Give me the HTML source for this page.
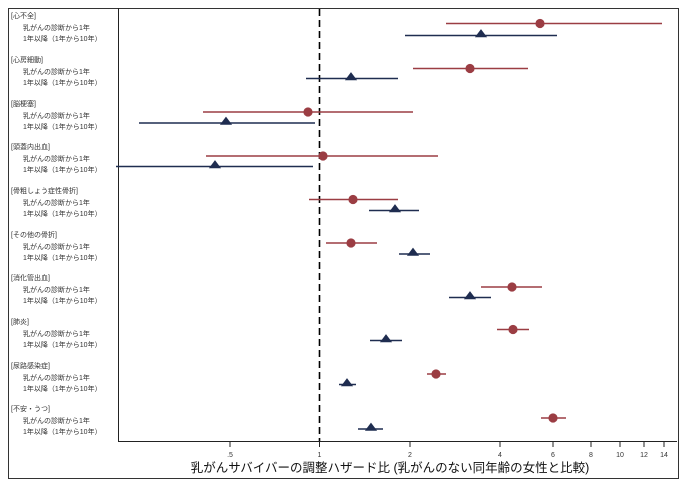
<!DOCTYPE html>
<html><head><meta charset="utf-8"><style>
html,body{margin:0;padding:0;background:#fff;}
svg{display:block;font-family:"Liberation Sans","Noto Sans CJK JP",sans-serif;}
</style></head><body>
<svg width="690" height="490" viewBox="0 0 690 490" xmlns="http://www.w3.org/2000/svg">
<rect x="8.5" y="8.5" width="670" height="470" fill="#fff" stroke="#333" stroke-width="1"/>
<line x1="118.5" y1="8" x2="118.5" y2="441" stroke="#222"/>
<line x1="118" y1="441.5" x2="677" y2="441.5" stroke="#222"/>
<line x1="319.5" y1="9" x2="319.5" y2="441" stroke="#000" stroke-width="1.6" stroke-dasharray="7,4"/>
<g stroke="#222">
<line x1="230" y1="441" x2="230" y2="447"/><line x1="319.5" y1="441" x2="319.5" y2="447"/>
<line x1="410" y1="441" x2="410" y2="447"/><line x1="500" y1="441" x2="500" y2="447"/>
<line x1="553" y1="441" x2="553" y2="447"/><line x1="591" y1="441" x2="591" y2="447"/>
<line x1="620" y1="441" x2="620" y2="447"/><line x1="644" y1="441" x2="644" y2="447"/>
<line x1="664" y1="441" x2="664" y2="447"/>
</g>
<g font-size="7" fill="#333" text-anchor="middle">
<text x="230" y="457">.5</text><text x="319.5" y="457">1</text><text x="410" y="457">2</text>
<text x="500" y="457">4</text><text x="553" y="457">6</text><text x="591" y="457">8</text>
<text x="620" y="457">10</text><text x="644" y="457">12</text><text x="664" y="457">14</text>
</g>
<text x="390" y="472" font-size="12.5" text-anchor="middle" fill="#111">乳がんサバイバーの調整ハザード比 (乳がんのない同年齢の女性と比較)</text>
<g font-size="7" fill="#333">
<text x="11" y="18">[心不全]</text><text x="23" y="30">乳がんの診断から1年</text><text x="23" y="41">1年以降（1年から10年）</text>
<text x="11" y="62">[心房細動]</text><text x="23" y="74">乳がんの診断から1年</text><text x="23" y="85">1年以降（1年から10年）</text>
<text x="11" y="106">[脳梗塞]</text><text x="23" y="118">乳がんの診断から1年</text><text x="23" y="129">1年以降（1年から10年）</text>
<text x="11" y="149">[頭蓋内出血]</text><text x="23" y="161">乳がんの診断から1年</text><text x="23" y="172">1年以降（1年から10年）</text>
<text x="11" y="193">[骨粗しょう症性骨折]</text><text x="23" y="205">乳がんの診断から1年</text><text x="23" y="216">1年以降（1年から10年）</text>
<text x="11" y="237">[その他の骨折]</text><text x="23" y="249">乳がんの診断から1年</text><text x="23" y="260">1年以降（1年から10年）</text>
<text x="11" y="280">[消化管出血]</text><text x="23" y="292">乳がんの診断から1年</text><text x="23" y="303">1年以降（1年から10年）</text>
<text x="11" y="324">[肺炎]</text><text x="23" y="336">乳がんの診断から1年</text><text x="23" y="347">1年以降（1年から10年）</text>
<text x="11" y="368">[尿路感染症]</text><text x="23" y="380">乳がんの診断から1年</text><text x="23" y="391">1年以降（1年から10年）</text>
<text x="11" y="411">[不安・うつ]</text><text x="23" y="423">乳がんの診断から1年</text><text x="23" y="434">1年以降（1年から10年）</text>
</g>
<g stroke="#9b3d43" stroke-width="1.6" fill="#9b3d43">
<line x1="446" y1="23.5" x2="662" y2="23.5"/><circle cx="540" cy="23.5" r="3.8"/>
<line x1="413" y1="68.5" x2="528" y2="68.5"/><circle cx="470" cy="68.5" r="3.8"/>
<line x1="203" y1="112" x2="413" y2="112"/><circle cx="308" cy="112" r="3.8"/>
<line x1="206" y1="156" x2="438" y2="156"/><circle cx="323" cy="156" r="3.8"/>
<line x1="309" y1="199.5" x2="398" y2="199.5"/><circle cx="353" cy="199.5" r="3.8"/>
<line x1="326" y1="243" x2="377" y2="243"/><circle cx="351" cy="243" r="3.8"/>
<line x1="481" y1="287" x2="542" y2="287"/><circle cx="512" cy="287" r="3.8"/>
<line x1="497" y1="329.5" x2="529" y2="329.5"/><circle cx="513" cy="329.5" r="3.8"/>
<line x1="427" y1="374" x2="446" y2="374"/><circle cx="436" cy="374" r="3.8"/>
<line x1="541" y1="418" x2="566" y2="418"/><circle cx="553" cy="418" r="3.8"/>
</g>
<g stroke="#1f2d50" stroke-width="1.6" fill="#1f2d50">
<line x1="405" y1="35.5" x2="557" y2="35.5"/><path d="M481 30.5 l4.5 6 h-9 z"/>
<line x1="306" y1="78.5" x2="398" y2="78.5"/><path d="M351 73.5 l4.5 6 h-9 z"/>
<line x1="139" y1="123" x2="315" y2="123"/><path d="M226 118 l4.5 6 h-9 z"/>
<line x1="116" y1="166.5" x2="313" y2="166.5"/><path d="M215 161.5 l4.5 6 h-9 z"/>
<line x1="369" y1="210.5" x2="419" y2="210.5"/><path d="M395 205.5 l4.5 6 h-9 z"/>
<line x1="399" y1="254" x2="430" y2="254"/><path d="M413 249 l4.5 6 h-9 z"/>
<line x1="449" y1="297.5" x2="491" y2="297.5"/><path d="M470 292.5 l4.5 6 h-9 z"/>
<line x1="370" y1="340.5" x2="402" y2="340.5"/><path d="M386 335.5 l4.5 6 h-9 z"/>
<line x1="339" y1="384.5" x2="356" y2="384.5"/><path d="M347 379.5 l4.5 6 h-9 z"/>
<line x1="358" y1="429" x2="383" y2="429"/><path d="M371 424 l4.5 6 h-9 z"/>
</g>
</svg>
</body></html>
